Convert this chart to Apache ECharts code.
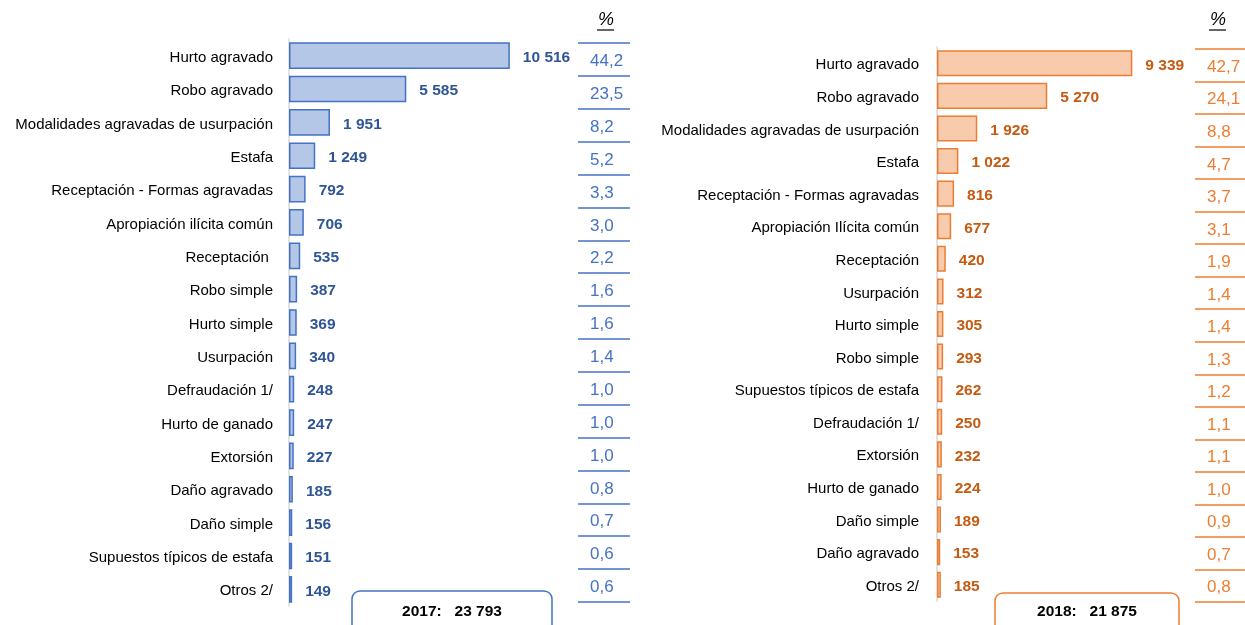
<!DOCTYPE html>
<html>
<head>
<meta charset="utf-8">
<script src="https://cdn.jsdelivr.net/npm/echarts@6/dist/echarts.min.js"></script>
<style>
  html, body { margin: 0; padding: 0; background: #fff; }
  #chart { width: 1245px; height: 625px; }
</style>
</head>
<body>
<div id="chart"></div>
<script>
  // 2017
  const cats2017 = ['Hurto agravado', 'Robo agravado', 'Modalidades agravadas de usurpación', 'Estafa',
    'Receptación - Formas agravadas', 'Apropiación ilícita común', 'Receptación ', 'Robo simple',
    'Hurto simple', 'Usurpación', 'Defraudación 1/', 'Hurto de ganado', 'Extorsión', 'Daño agravado',
    'Daño simple', 'Supuestos típicos de estafa', 'Otros 2/']
  const values2017 = [10516, 5585, 1951, 1249, 792, 706, 535, 387, 369, 340, 248, 247, 227, 185, 156, 151, 149]
  const pct2017 = [44.2, 23.5, 8.2, 5.2, 3.3, 3.0, 2.2, 1.6, 1.6, 1.4, 1.0, 1.0, 1.0, 0.8, 0.7, 0.6, 0.6]

  // 2018
  const cats2018 = ['Hurto agravado', 'Robo agravado', 'Modalidades agravadas de usurpación', 'Estafa',
    'Receptación - Formas agravadas', 'Apropiación Ilícita común', 'Receptación', 'Usurpación',
    'Hurto simple', 'Robo simple', 'Supuestos típicos de estafa', 'Defraudación 1/', 'Extorsión',
    'Hurto de ganado', 'Daño simple', 'Daño agravado', 'Otros 2/']
  const values2018 = [9339, 5270, 1926, 1022, 816, 677, 420, 312, 305, 293, 262, 250, 232, 224, 189, 153, 185]
  const pct2018 = [42.7, 24.1, 8.8, 4.7, 3.7, 3.1, 1.9, 1.4, 1.4, 1.3, 1.2, 1.1, 1.1, 1.0, 0.9, 0.7, 0.8]

  const total2017 = values2017.reduce((a, b) => a + b, 0)
  const total2018 = values2018.reduce((a, b) => a + b, 0)

  const FONT = "'Liberation Sans Narrow', 'Arial Narrow', 'Liberation Sans', Arial, sans-serif"

  // 10516 -> "10 516"
  function fmt (v) {
    return String(v).replace(/\B(?=(\d{3})+(?!\d))/g, ' ')
  }
  function fmtPct (v) {
    return v.toFixed(1).replace('.', ',')
  }

  const blue = { fill: '#B4C7E7', border: '#4472C4', label: '#2F5597', pct: '#4472C4' }
  const orange = { fill: '#F8CBAD', border: '#ED7D31', label: '#C55A11', pct: '#ED7D31' }

  function catAxis (gridIndex, data, margin) {
    return {
      type: 'category',
      gridIndex: gridIndex,
      inverse: true,
      data: data,
      axisLine: { show: true, lineStyle: { color: '#D9D9D9', width: 1.5 } },
      axisTick: { show: false },
      axisLabel: {
        margin: margin,
        formatter: v => '{a|' + v + '}',
        rich: { a: { color: '#000', fontSize: 15, fontFamily: FONT, padding: [4, 0, 0, 0] } }
      }
    }
  }
  function pctAxis (gridIndex, data, col) {
    return {
      type: 'category',
      gridIndex: gridIndex,
      inverse: true,
      data: data.map(fmtPct),
      axisLine: { show: false },
      axisTick: { show: false },
      axisLabel: {
        inside: true,
        margin: 12,
        formatter: v => '{a|' + v + '}',
        rich: { a: { color: col.pct, fontSize: 17, fontFamily: FONT, padding: [4, 0, 0, 0] } }
      },
      splitLine: { show: true, lineStyle: { color: col.border, width: 1.5 } }
    }
  }
  function barSeries (axisIndex, data, col) {
    return {
      type: 'bar',
      xAxisIndex: axisIndex,
      yAxisIndex: axisIndex,
      data: data,
      barWidth: '80%',
      itemStyle: { color: col.fill, borderColor: col.border, borderWidth: 1.5 },
      label: {
        show: true,
        position: 'right',
        distance: 13,
        offset: [0, 2],
        formatter: p => fmt(p.value),
        color: col.label,
        fontWeight: 'bold',
        fontSize: 15.5,
        fontFamily: FONT
      }
    }
  }

  const chart = echarts.init(document.getElementById('chart'))
  chart.setOption({
    animation: false,
    grid: [
      { left: 289, top: 39, width: 252, height: 567, outerBoundsMode: 'none' },
      { left: 937, top: 47, width: 251, height: 554, outerBoundsMode: 'none' },
      { left: 578, top: 43, width: 52, height: 559, outerBoundsMode: 'none' },
      { left: 1195, top: 49, width: 52, height: 553, outerBoundsMode: 'none' }
    ],
    xAxis: [
      { type: 'value', gridIndex: 0, min: 0, max: 12000, show: false },
      { type: 'value', gridIndex: 1, min: 0, max: 12000, show: false },
      { type: 'value', gridIndex: 2, show: false },
      { type: 'value', gridIndex: 3, show: false }
    ],
    yAxis: [
      catAxis(0, cats2017, 16),
      catAxis(1, cats2018, 18),
      pctAxis(2, pct2017, blue),
      pctAxis(3, pct2018, orange)
    ],
    series: [
      barSeries(0, values2017, blue),
      barSeries(1, values2018, orange)
    ],
    graphic: [
      { type: 'text', left: 598, top: 11, style: { text: '%', fontSize: 18, fontStyle: 'italic', fontFamily: FONT, fill: '#000' } },
      { type: 'line', shape: { x1: 597, y1: 30, x2: 614, y2: 30 }, style: { stroke: '#000', lineWidth: 1.2 } },
      { type: 'text', left: 1210, top: 11, style: { text: '%', fontSize: 18, fontStyle: 'italic', fontFamily: FONT, fill: '#000' } },
      { type: 'line', shape: { x1: 1209, y1: 30, x2: 1226, y2: 30 }, style: { stroke: '#000', lineWidth: 1.2 } },
      { type: 'rect', shape: { x: 352, y: 591, width: 200, height: 60, r: 8 }, style: { fill: '#fff', stroke: blue.border, lineWidth: 1.5 } },
      { type: 'text', x: 452, y: 612, style: { text: '2017:   ' + fmt(total2017), align: 'center', verticalAlign: 'middle', fontSize: 15.5, fontWeight: 'bold', fontFamily: FONT, fill: '#000' } },
      { type: 'rect', shape: { x: 995, y: 593, width: 184, height: 60, r: 8 }, style: { fill: '#fff', stroke: orange.border, lineWidth: 1.5 } },
      { type: 'text', x: 1087, y: 612, style: { text: '2018:   ' + fmt(total2018), align: 'center', verticalAlign: 'middle', fontSize: 15.5, fontWeight: 'bold', fontFamily: FONT, fill: '#000' } }
    ]
  })
</script>
</body>
</html>
